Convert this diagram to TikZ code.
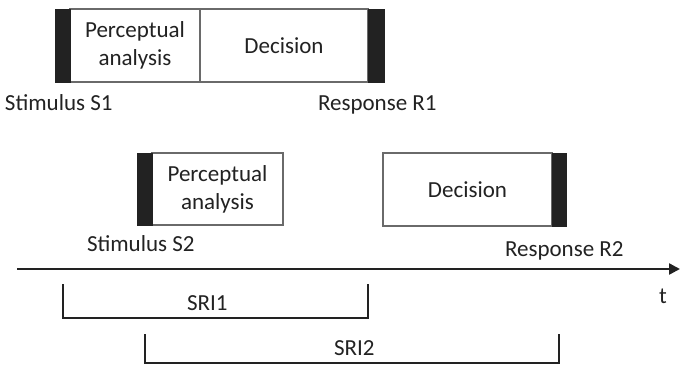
\documentclass[tikz,border=0pt]{standalone}
\usepackage{fontspec}
\setmainfont{Carlito}
\usetikzlibrary{arrows.meta}
\definecolor{ink}{HTML}{222222}
\definecolor{frame}{HTML}{6A6A6A}
\begin{document}
\begin{tikzpicture}[x=1pt,y=-1pt,
  every node/.style={inner sep=0pt,outer sep=0pt,text=ink,font=\fontsize{23}{28}\selectfont},
  phase/.style={draw=frame,line width=1.1pt,fill=white,align=center,anchor=north west},
  bar/.style={draw=ink,fill=ink,line width=0.6pt,anchor=north west,minimum width=14pt},
  lbl/.style={anchor=base west},
  bracket/.style={draw=ink,line width=2pt},
  axis/.style={draw=ink,line width=2.4pt,-{Triangle[length=11pt,width=11pt]}}]
\useasboundingbox (0,0) rectangle (680,365);

% first trial: perceptual analysis then decision
\node[phase,minimum width=130pt,minimum height=73pt] (pa1) at (70,9) {Perceptual\\analysis};
\node[phase,minimum width=168pt,minimum height=73pt] (dec1) at (200,9) {Decision};
\node[bar,minimum width=15pt,minimum height=73pt] (s1bar) at (55,9) {};
\node[bar,minimum width=16pt,minimum height=73pt] (r1bar) at (368,9) {};
\node[lbl] (s1) at (5,110) {Stimulus S1};
\node[lbl] (r1) at (318,110) {Response R1};

% second trial: decision waits for the first one
\node[phase,minimum width=131pt,minimum height=72pt] (pa2) at (152,153) {Perceptual\\analysis};
\node[bar,minimum width=15pt,minimum height=72pt] (s2bar) at (137,153) {};
\node[phase,minimum width=169pt,minimum height=73pt] (dec2) at (383,153) {Decision};
\node[bar,minimum width=14pt,minimum height=73pt] (r2bar) at (552,153) {};
\node[lbl] (s2) at (87,251) {Stimulus S2};
\node[lbl] (r2) at (505,256) {Response R2};

% time axis
\coordinate (t0) at (17,269);
\coordinate (t1) at (680,269);
\draw[axis] (t0) -- (t1);
\node[lbl] (tl) at (659,303) {t};

% stimulus-response intervals
\coordinate (a1) at (63,284);
\coordinate (b1) at (368,284);
\draw[bracket] (a1) -- ++(0,34) -| (b1);
\node[lbl] (sri1) at (187,310) {SRI1};

\coordinate (a2) at (145,334);
\coordinate (b2) at (559,334);
\draw[bracket] (a2) -- ++(0,29) -| (b2);
\node[lbl] (sri2) at (334,355) {SRI2};
\end{tikzpicture}
\end{document}
